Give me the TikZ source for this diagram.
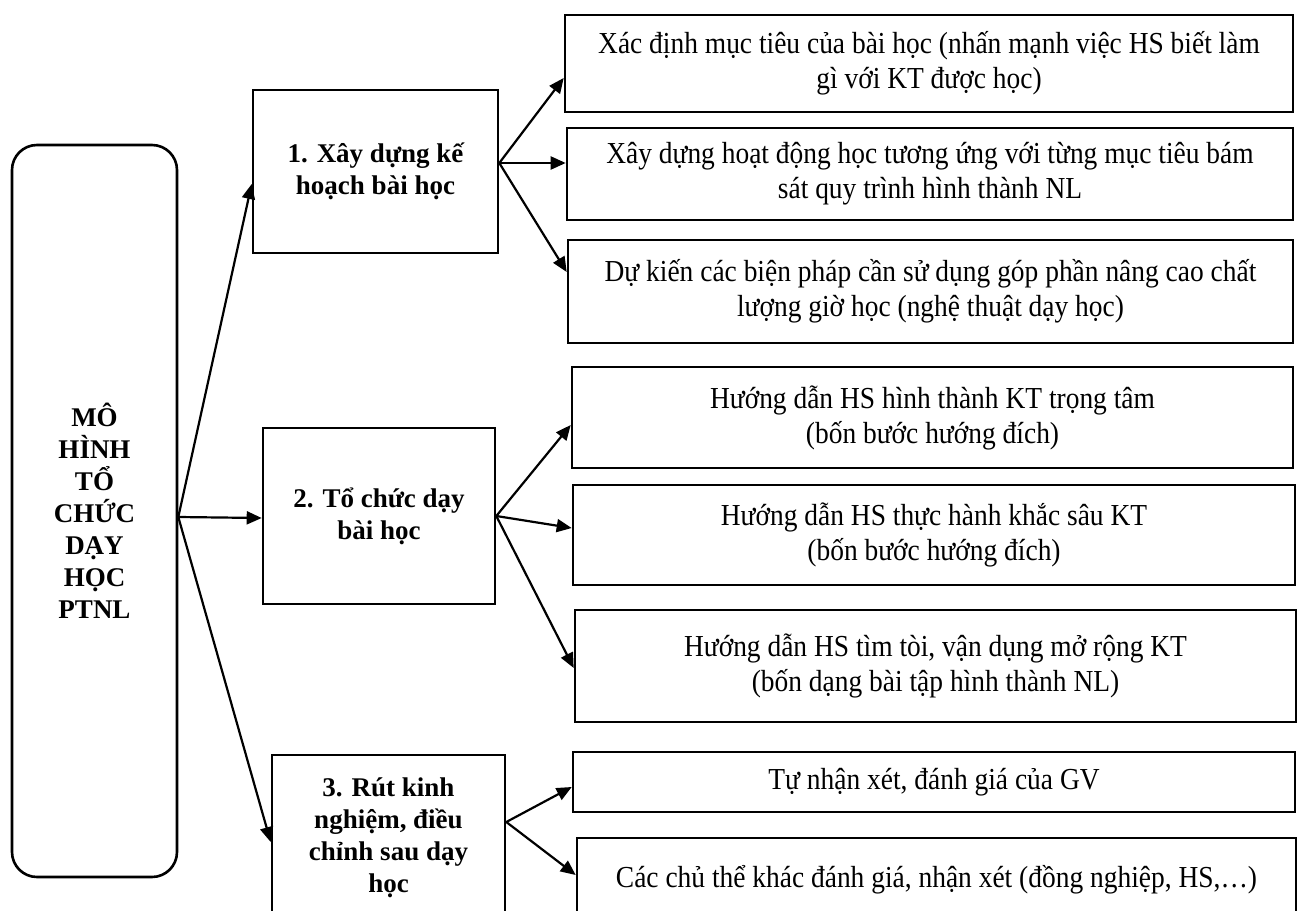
\documentclass[tikz,border=0pt]{standalone}
\usepackage{fontspec}
\setmainfont{Liberation Serif}
\newfontfamily\subfont[FakeStretch=0.9]{Liberation Serif}
\usetikzlibrary{arrows.meta}
\begin{document}
\begin{tikzpicture}[x=1pt,y=-1pt,
  box/.style={draw,line width=2.6pt,rectangle,align=center,inner sep=0pt},
  sub/.style={box,font=\subfont\fontsize{30.5}{35}\selectfont},
  lvl/.style={box,font=\bfseries\fontsize{27}{32}\selectfont},
  arr/.style={line width=2.2pt,-{Triangle[length=15pt,width=13pt]}}]
\useasboundingbox (0,0) rectangle (1298,910);
\clip (0,0) rectangle (1298,910);
% main
\node[box,rounded corners=25pt,minimum width=165pt,minimum height=732pt,font=\bfseries\fontsize{27}{32}\selectfont] (main) at (94.5,511) {MÔ\\HÌNH\\TỔ\\CHỨC\\DẠY\\HỌC\\PTNL};
% level boxes
\node[lvl,minimum width=245pt,minimum height=163pt] (s1) at (375.5,171.5) {1. Xây dựng kế\\hoạch bài học};
\node[lvl,minimum width=232pt,minimum height=176pt] (s2) at (379,516) {2. Tổ chức dạy\\bài học};
\node[lvl,minimum width=233pt,minimum height=165pt] (s3) at (388.5,837.5) {3. Rút kinh\\nghiệm, điều\\chỉnh sau dạy\\học};
% sub boxes
\node[sub,minimum width=728pt,minimum height=97pt] (a1) at (929,63.5) {Xác định mục tiêu của bài học (nhấn mạnh việc HS biết làm\\gì với KT được học)};
\node[sub,minimum width=726pt,minimum height=92pt] (a2) at (930,174) {Xây dựng hoạt động học tương ứng với từng mục tiêu bám\\sát quy trình hình thành NL};
\node[sub,minimum width=725pt,minimum height=103pt] (a3) at (930.5,291.5) {Dự kiến các biện pháp cần sử dụng góp phần nâng cao chất\\lượng giờ học (nghệ thuật dạy học)};
\node[sub,minimum width=721pt,minimum height=101pt] (b1) at (932.5,417.5) {Hướng dẫn HS hình thành KT trọng tâm\\(bốn bước hướng đích)};
\node[sub,minimum width=722pt,minimum height=100pt] (b2) at (934,535) {Hướng dẫn HS thực hành khắc sâu KT\\(bốn bước hướng đích)};
\node[sub,minimum width=721pt,minimum height=112pt] (b3) at (935.5,666) {Hướng dẫn HS tìm tòi, vận dụng mở rộng KT\\(bốn dạng bài tập hình thành NL)};
\node[sub,minimum width=722pt,minimum height=60pt] (c1) at (934,782) {Tự nhận xét, đánh giá của GV};
\node[sub,minimum width=719pt,minimum height=84pt] (c2) at (936.5,880) {Các chủ thể khác đánh giá, nhận xét (đồng nghiệp, HS,…)};
% arrows
\draw[arr] ([yshift=-6pt]main.east) -- ([yshift=-12.5pt]s1.west);
\draw[arr] ([yshift=-6pt]main.east) -- ([yshift=-2pt]s2.west);
\draw[arr] ([yshift=-6pt]main.east) -- ([yshift=-4.5pt]s3.west);
\draw[arr] ([yshift=8.5pt]s1.east) -- ([yshift=-14.5pt]a1.west);
\draw[arr] ([yshift=8.5pt]s1.east) -- ([yshift=11pt]a2.west);
\draw[arr] ([yshift=8.5pt]s1.east) -- ([yshift=19.5pt]a3.west);
\draw[arr] (s2.east) -- ([yshift=-7.5pt]b1.west);
\draw[arr] (s2.east) -- ([yshift=7pt]b2.west);
\draw[arr] (s2.east) -- ([yshift=-2pt]b3.west);
\draw[arr] ([yshift=15.5pt]s3.east) -- ([yshift=-5pt]c1.west);
\draw[arr] ([yshift=15.5pt]s3.east) -- ([yshift=5pt]c2.west);
\end{tikzpicture}
\end{document}
